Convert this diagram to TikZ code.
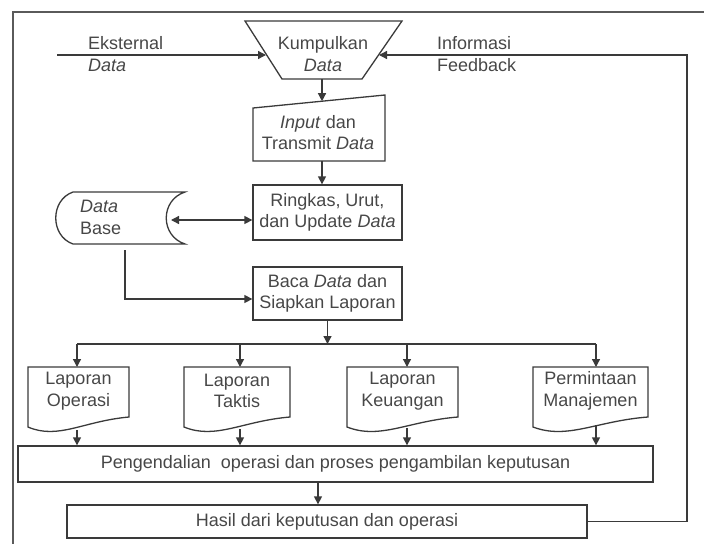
\documentclass[tikz,border=0pt]{standalone}
\usepackage{fontspec}
\usetikzlibrary{arrows.meta}
\newfontfamily\lsans{Liberation Sans}
\definecolor{linec}{HTML}{3A3A3A}
\definecolor{txtc}{HTML}{474747}
\definecolor{framec}{HTML}{5A5A5A}
\tikzset{
  shp/.style={draw=linec, line width=1.3pt, line join=miter},
  plain/.style={draw=linec, line width=1.3pt},
  box/.style={draw=linec, line width=1.3pt, rectangle, inner sep=0pt, align=center, text=txtc, font=\lsans\fontsize{18}{21.5}\selectfont},
  txt/.style={text=txtc, font=\lsans\fontsize{18}{21.5}\selectfont, align=center, inner sep=0pt},
  arr/.style={draw=linec, line width=1.3pt, -{Triangle[length=8pt,width=8pt]}},
  arrb/.style={draw=linec, line width=1.3pt, {Triangle[length=8pt,width=8pt]}-{Triangle[length=8pt,width=8pt]}},
}
\begin{document}
\begin{tikzpicture}[x=1pt,y=-1pt]
\useasboundingbox (0,0) rectangle (704,544);
% outer frame
\draw[framec, line width=1.4pt] (704,12) -- (13,12) -- (13,544);

% Kumpulkan Data (trapezoid)
\draw[shp] (245,21) -- (402,21) -- (362,79) -- (282,79) -- cycle;
\node[txt] (kump) at (323,54) {Kumpulkan\\\textit{Data}};
\coordinate (kumpL) at (266,55);
\coordinate (kumpR) at (379,55);
\coordinate (kumpB) at (322,79);

% Eksternal Data
\coordinate (extS) at (57,55);
\node[txt, anchor=west, align=left] (ext) at (88,54) {Eksternal\\\textit{Data}};
\draw[arr] (extS) -- (kumpL);

% Informasi Feedback label
\node[txt, anchor=west, align=left] (fb) at (437,54) {Informasi\\Feedback};

% Input dan Transmit Data (manual input)
\draw[shp] (253,108) -- (385,95) -- (385,161) -- (253,161) -- cycle;
\node[txt] (input) at (318,132.5) {\textit{Input} dan\\Transmit \textit{Data}};
\coordinate (inputT) at (322,101.2);
\coordinate (inputB) at (322,161);
\draw[arr] (kumpB) -- (inputT);

% Ringkas box
\node[box, minimum width=149pt, minimum height=55pt] (ringkas) at (327.5,212.5) {Ringkas, Urut,\\dan Update \textit{Data}};
\draw[arr] (inputB) -- (inputB |- ringkas.north);

% Data Base (stored data)
\draw[shp] (73,192) -- (185,192) .. controls (160,200) and (160,236) .. (185,244) -- (73,244) .. controls (50,236) and (50,200) .. (73,192) -- cycle;
\node[txt, anchor=west, align=left] (db) at (80,217.5) {\textit{Data}\\Base};
\coordinate (dbR) at (171,220);
\coordinate (dbB) at (125,250);
\draw[arrb] (dbR) -- (dbR -| ringkas.west);

% Baca box
\node[box, minimum width=149pt, minimum height=53pt] (baca) at (327.5,293.5) {Baca \textit{Data} dan\\Siapkan Laporan};
\coordinate (dbTurn) at (125,299);
\draw[arr] (dbB) -- (dbTurn) -- (dbTurn -| baca.west);

% bus
\coordinate (bus) at (327.5,344);
\coordinate (busL) at (77,344);
\coordinate (busR) at (596,344);
\draw[arr] (baca.south) -- (bus);
\draw[plain] (busL) -- (busR);

% documents
\newcommand\docshape[2]{%
  \draw[shp] (#1,367) -- (#2,367) -- (#2,417)
    .. controls ({#2-0.45*(#2-#1)},421) and ({#1+0.3*(#2-#1)},440) .. (#1,427) -- cycle;}
\docshape{28}{129}
\docshape{184}{290}
\docshape{347}{458}
\docshape{533}{648}
\node[txt] (doc1) at (78.5,391) {Laporan\\Operasi};
\node[txt] (doc2) at (237,391) {Laporan\\Taktis};
\node[txt] (doc3) at (402.5,391) {Laporan\\Keuangan};
\node[txt] (doc4) at (590.5,391) {Permintaan\\Manajemen};

\coordinate (d1t) at (77,367);  \coordinate (d1b) at (77,430);
\coordinate (d2t) at (240,367); \coordinate (d2b) at (240,429);
\coordinate (d3t) at (407,367); \coordinate (d3b) at (407,428);
\coordinate (d4t) at (596,367); \coordinate (d4b) at (596,425);
\coordinate (b2) at (240,344); \coordinate (b3) at (407,344);
\draw[arr] (busL) -- (d1t);
\draw[arr] (b2) -- (d2t);
\draw[arr] (b3) -- (d3t);
\draw[arr] (busR) -- (d4t);

% Pengendalian box
\node[box, minimum width=635pt, minimum height=36pt] (peng) at (335.5,464) {Pengendalian\ \ operasi dan proses pengambilan keputusan};
\draw[arr] (d1b) -- (d1b |- peng.north);
\draw[arr] (d2b) -- (d2b |- peng.north);
\draw[arr] (d3b) -- (d3b |- peng.north);
\draw[arr] (d4b) -- (d4b |- peng.north);

% Hasil box
\node[box, minimum width=520pt, minimum height=33pt] (hasil) at (327,521.5) {Hasil dari keputusan dan operasi};
\coordinate (pengB) at (318,482);
\draw[arr] (pengB) -- (pengB |- hasil.north);

% feedback loop
\coordinate (fbC1) at (687,521.5);
\coordinate (fbC2) at (687,55);
\draw[arr] (hasil.east) -- (fbC1) -- (fbC2) -- (kumpR);
\end{tikzpicture}
\end{document}
